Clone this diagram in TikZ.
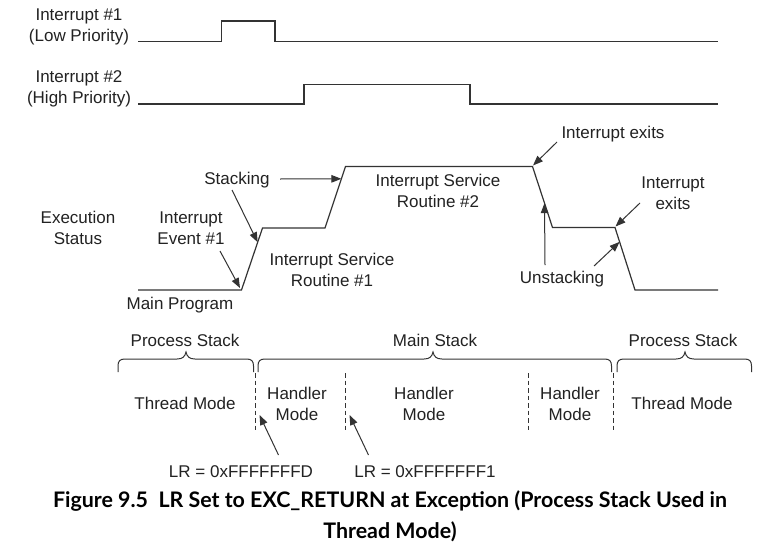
\documentclass[tikz,border=0pt]{standalone}
\usepackage{fontspec}
\setmainfont{Liberation Sans}
\newfontfamily\capfont{Lato}
\usetikzlibrary{arrows.meta,calc}
\definecolor{ink}{HTML}{222222}
\definecolor{wire}{HTML}{333333}
\newcommand\stackbrace[3]{%
  \draw[wire,line width=1pt] (#1,372) -- (#1,366) .. controls (#1,361) and ({#1+2},359) .. ({#1+7},359)
    -- ({#2-9},359) .. controls ({#2-4},359) and ({#2-1},357) .. (#2,352)
    .. controls ({#2+1},357) and ({#2+4},359) .. ({#2+9},359)
    -- ({#3-7},359) .. controls ({#3-2},359) and (#3,361) .. (#3,366) -- (#3,372);}
\begin{document}
\begin{tikzpicture}[x=1pt,y=-1pt,
  lbl/.style={inner sep=0pt,align=center,text=ink,font=\fontsize{17}{21}\selectfont},
  wave/.style={wire,line width=1.2pt,line join=miter},
  ptr/.style={wire,line width=1pt,-{Triangle[length=10pt,width=7.5pt]}},
  sep/.style={wire,line width=1pt,dash pattern=on 4.5pt off 3pt}]
\useasboundingbox[fill=white] (0,0) rectangle (771,549);

% ---- signal labels
\node[lbl] (int1) at (79,27) {Interrupt \#1\\(Low Priority)};
\node[lbl] (int2) at (79,89) {Interrupt \#2\\(High Priority)};
\node[lbl] (exec) at (78,228) {Execution\\Status};

% ---- waveforms
\draw[wave] (138,41.5) -- (221.5,41.5) -- (221.5,21) -- (275,21) -- (275,41.5) -- (718,41.5);
\draw[wave] (138,104) -- (304,104) -- (304,84.5) -- (470,84.5) -- (470,104) -- (718,104);

\coordinate (e0) at (138,290);
\coordinate (e1) at (241.5,290);
\coordinate (e2) at (262.5,228);
\coordinate (e3) at (325,228);
\coordinate (e4) at (345.5,166.5);
\coordinate (e5) at (532.5,166.5);
\coordinate (e6) at (552.5,227.5);
\coordinate (e7) at (615,227.5);
\coordinate (e8) at (635,290);
\coordinate (e9) at (718,290);
\draw[wave] (e0) -- (e1) -- (e2) -- (e3) -- (e4) -- (e5) -- (e6) -- (e7) -- (e8) -- (e9);

% ---- execution labels
\node[lbl] (event) at (191,228) {Interrupt\\Event \#1};
\node[lbl] (stacking) at (237,180) {Stacking};
\node[lbl] (mainprog) at (180,305) {Main Program};
\node[lbl] (isr1) at (332,270) {Interrupt Service\\Routine \#1};
\node[lbl] (isr2) at (438,191) {Interrupt Service\\Routine \#2};
\node[lbl] (exits1) at (613,134) {Interrupt exits};
\node[lbl] (exits2) at (673,193) {Interrupt\\exits};
\node[lbl] (unstack) at (562,279) {Unstacking};

% ---- arrow ends
\coordinate (tEvent) at (220,251);
\coordinate (hEvent) at (240,288);
\coordinate (tStk1) at (232,190);
\coordinate (hStk1) at ($(e1)!0.77!(e2)$);
\coordinate (tStk2) at (280,179);
\coordinate (hStk2) at ($(e3)!0.80!(e4)$);
\coordinate (tEx1) at (557,142);
\coordinate (hEx1) at (533,165.5);
\coordinate (tUn1) at (545,265);
\coordinate (hUn1) at ($(e5)!0.60!(e6)$);
\coordinate (tUn2) at (594,266);
\coordinate (hUn2) at ($(e7)!0.23!(e8)$);
\coordinate (tEx2) at (640,203);
\coordinate (hEx2) at (615.5,226.5);

\draw[ptr] (tEvent) -- (hEvent);
\draw[ptr] (tStk1) -- (hStk1);
\draw[ptr] (tStk2) -- (hStk2);
\draw[ptr] (tEx1) -- (hEx1);
\draw[ptr] (tUn1) -- (hUn1);
\draw[ptr] (tUn2) -- (hUn2);
\draw[ptr] (tEx2) -- (hEx2);

% ---- stacks
\node[lbl] (ps1) at (185,340) {Process Stack};
\node[lbl] (ms) at (435,340) {Main Stack};
\node[lbl] (ps2) at (683,340) {Process Stack};
\stackbrace{118}{186}{253.5}
\stackbrace{258}{433}{611.5}
\stackbrace{617}{685}{751.5}

% ---- mode separators
\coordinate (d1a) at (255,373);   \coordinate (d1b) at (255,430);
\coordinate (d2a) at (345.5,373); \coordinate (d2b) at (345.5,430);
\coordinate (d3a) at (528.5,373); \coordinate (d3b) at (528.5,430);
\coordinate (d4a) at (613.5,373); \coordinate (d4b) at (613.5,430);
\draw[sep] (d1a) -- (d1b);
\draw[sep] (d2a) -- (d2b);
\draw[sep] (d3a) -- (d3b);
\draw[sep] (d4a) -- (d4b);

\node[lbl] (tm1) at (185,403) {Thread Mode};
\node[lbl] (hm1) at (297,404) {Handler\\Mode};
\node[lbl] (hm2) at (424,404) {Handler\\Mode};
\node[lbl] (hm3) at (570,404) {Handler\\Mode};
\node[lbl] (tm2) at (682,403) {Thread Mode};

% ---- LR values
\node[lbl] (lr1) at (241,472) {LR = 0xFFFFFFFD};
\node[lbl] (lr2) at (425,472) {LR = 0xFFFFFFF1};
\coordinate (tLr1) at (278.5,455);
\coordinate (hLr1) at (259.5,415);
\coordinate (tLr2) at (368.5,455);
\coordinate (hLr2) at (349.5,415);
\draw[ptr] (tLr1) -- (hLr1);
\draw[ptr] (tLr2) -- (hLr2);

% ---- caption
\node[inner sep=0pt,align=center,text=black,font=\capfont\bfseries\fontsize{21.4}{31}\selectfont] (caption) at (390,516)
  {Figure 9.5\ \ LR Set to EXC\_RETURN at Exception (Process Stack Used in\\Thread Mode)};
\end{tikzpicture}
\end{document}
